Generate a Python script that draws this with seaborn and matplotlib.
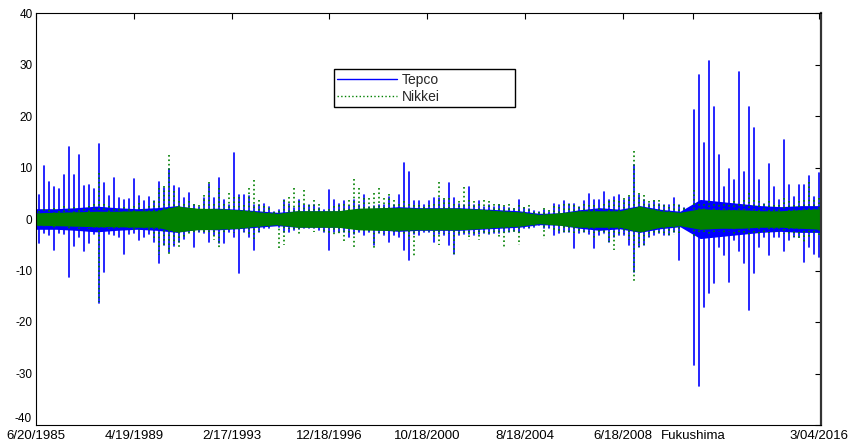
import numpy as np
import pandas as pd
import matplotlib
matplotlib.use("Agg")
import matplotlib.pyplot as plt
from matplotlib.lines import Line2D
import seaborn as sns

tepco_up = [4.7, 10.3, 7.2, 6.3, 5.8, 8.5, 13.9, 8.6, 12.4, 6.5, 6.6, 5.8, 14.6, 7.0, 4.5, 7.9,
            4.0, 3.6, 3.8, 7.7, 4.5, 3.5, 4.3, 3.5, 7.2, 6.0, 9.8, 6.5, 6.0, 4.0, 5.0, 2.7,
            2.4, 4.0, 6.7, 4.0, 8.0, 3.7, 2.7, 12.8, 4.7, 4.7, 4.5, 2.7, 2.7, 3.0, 2.4, 1.4,
            1.7, 3.7, 3.0, 2.1, 3.7, 2.7, 2.7, 2.7, 2.1, 1.7, 5.6, 3.7, 3.0, 3.4, 2.5, 3.7,
            2.7, 4.7, 2.4, 2.5, 2.7, 2.8, 4.3, 2.7, 4.7, 10.8, 9.2, 3.4, 3.4, 2.7, 3.4, 4.0,
            4.0, 3.7, 6.9, 4.0, 3.0, 2.7, 6.3, 2.7, 3.4, 2.4, 2.7, 2.4, 2.7, 2.4, 2.1, 2.0,
            3.7, 2.1, 2.0, 1.5, 1.4, 1.8, 1.4, 3.0, 2.7, 3.4, 3.0, 3.0, 2.4, 3.4, 4.8, 3.7,
            3.7, 5.3, 3.7, 4.3, 4.7, 3.7, 4.3, 10.5, 4.7, 3.7, 3.0, 3.4, 3.0, 2.7, 2.7, 4.1,
            2.7, 2.1, 1.3, 21.2, 28.0, 14.7, 30.7, 21.8, 12.4, 6.3, 9.8, 7.6, 28.6, 9.2, 21.8, 17.6,
            7.6, 3.0, 10.7, 6.3, 3.7, 15.3, 6.6, 4.3, 6.6, 6.6, 8.3, 4.3, 9.0]
tepco_dn = [-4.7, -2.8, -3.2, -6.0, -2.8, -3.0, -11.2, -5.3, -3.5, -6.3, -4.7, -3.0, -16.4, -10.2, -3.0, -3.2,
            -3.5, -6.7, -3.0, -2.8, -4.0, -3.5, -3.0, -4.5, -8.6, -5.0, -6.5, -5.2, -4.5, -3.8, -2.5, -5.4,
            -2.5, -2.8, -4.4, -3.1, -4.7, -4.7, -2.5, -3.4, -10.5, -2.5, -3.4, -6.0, -2.5, -1.8, -1.8, -1.2,
            -1.5, -2.5, -2.5, -2.1, -2.0, -1.8, -1.8, -1.8, -2.1, -2.5, -6.0, -2.5, -2.5, -2.5, -3.4, -3.0,
            -2.5, -3.1, -2.5, -5.0, -2.8, -3.1, -4.4, -3.1, -3.4, -6.0, -8.0, -3.0, -3.1, -2.5, -2.5, -4.4,
            -3.0, -3.1, -5.0, -6.7, -3.1, -3.0, -3.0, -3.1, -3.0, -2.8, -3.0, -2.8, -2.8, -2.5, -2.5, -2.3,
            -2.5, -1.8, -1.8, -1.5, -1.2, -1.8, -1.8, -3.1, -2.8, -2.5, -2.5, -5.7, -2.8, -2.5, -3.0, -5.7,
            -3.1, -2.8, -4.4, -3.5, -3.1, -3.1, -5.0, -10.2, -5.4, -5.0, -3.4, -3.1, -2.8, -3.1, -3.1, -2.5,
            -8.0, -1.5, -1.3, -28.3, -32.4, -17.0, -14.4, -12.5, -5.4, -7.0, -12.2, -4.1, -6.3, -8.6, -17.7, -10.5,
            -5.4, -3.4, -7.0, -3.4, -3.4, -6.3, -4.1, -3.4, -3.4, -8.3, -5.4, -6.7, -7.3]
nikkei_up = [1.5, 2.0, 1.8, 2.2, 1.5, 2.5, 2.0, 2.3, 1.8, 2.0, 2.5, 3.0, 9.0, 3.0, 2.5, 2.0,
             2.0, 2.4, 2.0, 2.5, 3.2, 2.0, 2.5, 3.5, 6.0, 6.5, 12.4, 5.5, 3.5, 3.0, 3.5, 3.0,
             2.7, 4.7, 7.2, 3.0, 6.0, 3.0, 5.0, 4.3, 4.3, 2.7, 6.1, 7.6, 3.7, 2.5, 2.1, 1.4,
             1.5, 3.7, 4.3, 6.1, 3.4, 5.6, 2.7, 3.7, 3.0, 1.4, 2.0, 2.5, 2.7, 3.0, 3.7, 7.7,
             6.0, 4.0, 4.0, 5.0, 6.1, 4.0, 4.8, 3.7, 3.0, 3.4, 3.0, 2.8, 2.7, 2.4, 2.7, 3.0,
             7.2, 4.0, 4.0, 3.0, 3.4, 6.3, 3.7, 3.4, 3.0, 3.7, 3.4, 3.0, 3.0, 2.7, 3.0, 2.1,
             2.7, 2.4, 2.7, 1.4, 1.4, 2.1, 1.7, 2.5, 2.4, 3.0, 3.0, 2.7, 2.4, 3.0, 2.7, 2.7,
             2.1, 3.0, 3.4, 3.7, 3.4, 4.0, 4.7, 13.2, 5.0, 4.7, 3.4, 3.7, 3.7, 2.7, 2.4, 3.0,
             2.7, 2.1, 1.3, 5.6, 3.0, 3.0, 3.4, 3.0, 2.7, 3.0, 2.7, 3.4, 3.0, 3.7, 5.0, 3.7,
             3.4, 3.0, 3.4, 2.7, 2.7, 4.0, 3.4, 2.7, 3.4, 3.7, 7.2, 3.7, 4.0]
nikkei_dn = [-1.8, -1.5, -1.6, -1.8, -1.7, -1.8, -2.0, -1.8, -2.0, -1.6, -2.0, -2.0, -16.2, -2.0, -2.0, -2.2,
             -1.8, -2.0, -1.8, -2.5, -2.2, -2.0, -2.5, -4.0, -7.0, -5.5, -7.1, -5.0, -5.8, -3.5, -3.0, -3.0,
             -2.5, -2.5, -3.0, -4.1, -5.7, -3.0, -2.5, -2.8, -2.5, -2.5, -3.0, -4.0, -2.5, -1.8, -1.5, -1.2,
             -6.0, -5.0, -2.0, -2.0, -3.1, -2.0, -1.8, -2.5, -2.1, -2.5, -3.1, -3.1, -3.1, -4.4, -3.0, -5.4,
             -2.1, -2.5, -2.5, -5.7, -2.8, -3.0, -3.0, -2.5, -2.8, -3.0, -4.0, -7.3, -2.5, -2.3, -2.5, -3.4,
             -5.0, -3.0, -3.0, -6.7, -3.1, -3.1, -4.1, -3.0, -4.1, -2.8, -3.1, -2.8, -3.4, -5.4, -2.5, -2.5,
             -5.0, -1.8, -1.8, -1.4, -1.2, -3.8, -1.8, -2.5, -2.5, -2.5, -2.5, -2.8, -2.8, -2.5, -2.5, -4.1,
             -2.5, -3.1, -4.4, -6.0, -3.0, -3.0, -4.0, -12.2, -5.4, -5.0, -3.4, -3.1, -2.8, -3.1, -3.1, -3.1,
             -2.8, -1.5, -1.3, -3.5, -3.0, -2.5, -3.0, -2.5, -2.5, -2.8, -2.5, -3.0, -2.8, -3.1, -3.4, -3.0,
             -3.1, -3.0, -2.8, -2.5, -2.5, -3.0, -3.1, -3.4, -4.0, -4.5, -3.4, -3.1, -3.4]

# Half-width of the dense core of daily moves, read at ~205-observation steps
tepco_core = [2.0, 2.0, 2.2, 2.5, 2.2, 2.0, 2.2, 2.6, 2.0, 2.1, 1.9, 1.6, 1.3, 1.6, 1.6, 1.6, 1.9, 2.1, 2.4, 2.2,
              2.2, 2.2, 2.0, 1.8, 1.6, 1.1, 1.2, 1.8, 2.2, 1.9, 2.6, 1.9, 1.5, 3.8, 3.4, 3.0, 2.6, 2.4, 2.6, 2.6]
nikkei_core = [1.2, 1.3, 1.4, 1.5, 1.5, 1.6, 1.6, 2.5, 2.1, 2.0, 1.8, 1.4, 1.1, 1.6, 1.6, 1.6, 2.1, 2.2, 2.2, 2.1,
               2.1, 2.1, 1.9, 1.6, 1.4, 0.9, 1.2, 1.6, 1.6, 1.6, 2.5, 1.6, 1.3, 2.0, 1.8, 1.8, 1.6, 1.6, 1.8, 2.0]

series_names = ["Tepco", "Nikkei"]
tick_obs = [1, 1001, 2001, 3001, 4001, 5001, 6001, 6721, 8010]
tick_labels = ["6/20/1985", "4/19/1989", "2/17/1993", "12/18/1996", "10/18/2000",
               "8/18/2004", "6/18/2008", "Fukushima", "3/04/2016"]
n_obs = 8031
y_ticks = [-40, -30, -20, -10, 0, 10, 20, 30, 40]

blue = "#0000ff"
green = "#008000"

sns.set_theme(style="white")
plt.rcParams["font.family"] = ["Liberation Sans", "DejaVu Sans"]

fig = plt.figure(figsize=(8.52, 4.41), dpi=100)
ax = fig.add_axes([36 / 852, 16 / 441, 785 / 852, 412 / 441])

nb = len(tepco_up)
w = (n_obs - 1) / nb
idx = np.arange(nb)


def spikes(up, dn):
    # one vertical stroke per window, from its lowest to its highest move
    return pd.DataFrame({
        "obs": np.repeat(1 + (idx + 0.5) * w, 2),
        "ret": np.column_stack([up, dn]).ravel(),
        "win": np.repeat(idx, 2),
    })


xc = np.linspace(1, n_obs, len(tepco_core))
tc = np.array(tepco_core)
nc = np.array(nikkei_core)

ax.fill_between(xc, -tc, tc, color=blue, lw=0, zorder=1)
sns.lineplot(data=spikes(tepco_up, tepco_dn), x="obs", y="ret", units="win", estimator=None,
             sort=False, color=blue, lw=1.2, ax=ax, legend=False, zorder=2)
ax.fill_between(xc, -nc, nc, color=green, lw=0, zorder=3)
sns.lineplot(data=spikes(nikkei_up, nikkei_dn), x="obs", y="ret", units="win", estimator=None,
             sort=False, color=green, lw=1.2, linestyle=":", ax=ax, legend=False, zorder=4)

ax.set_xlim(1, n_obs)
ax.set_ylim(-40, 40)
ax.set_xticks(tick_obs)
ax.set_xticklabels(tick_labels, fontsize=9.5)
ax.set_yticks(y_ticks)
# bottom label drawn separately, lifted slightly so it clears the first date label
ax.set_yticklabels([""] + [str(v) for v in y_ticks[1:]], fontsize=8.5)
ax.annotate(str(y_ticks[0]), xy=(0, y_ticks[0]), xycoords=("axes fraction", "data"),
            xytext=(-2.5 - 0.8, 4), textcoords="offset points", ha="right", va="center",
            fontsize=8.5, color="black")
ax.set_xlabel("")
ax.set_ylabel("")

for s in ax.spines.values():
    s.set_visible(True)
    s.set_color("black")
    s.set_linewidth(0.8)
    s.set_zorder(5)
ax.spines["right"].set_linewidth(1.6)
ax.spines["right"].set_color("#333333")

ax.tick_params(axis="both", direction="in", length=4.5, width=0.8, color="black",
               labelcolor="black", top=True, right=True)
ax.tick_params(axis="x", pad=3.5)
ax.tick_params(axis="y", pad=2.5)

handles = [Line2D([], [], color=blue, lw=1.0),
           Line2D([], [], color=green, lw=1.0, linestyle=":")]
leg = ax.legend(handles, series_names, loc="upper left",
                bbox_to_anchor=(0.3796, 0.0, 0.2306, 0.864), mode="expand",
                borderaxespad=0, fontsize=10, handlelength=4.3, handletextpad=0.35,
                borderpad=0.25, labelspacing=0.25, fancybox=False, framealpha=1)
leg.get_frame().set_edgecolor("black")
leg.get_frame().set_linewidth(1.0)
leg.set_zorder(6)

fig.savefig("out.png", dpi=100)
